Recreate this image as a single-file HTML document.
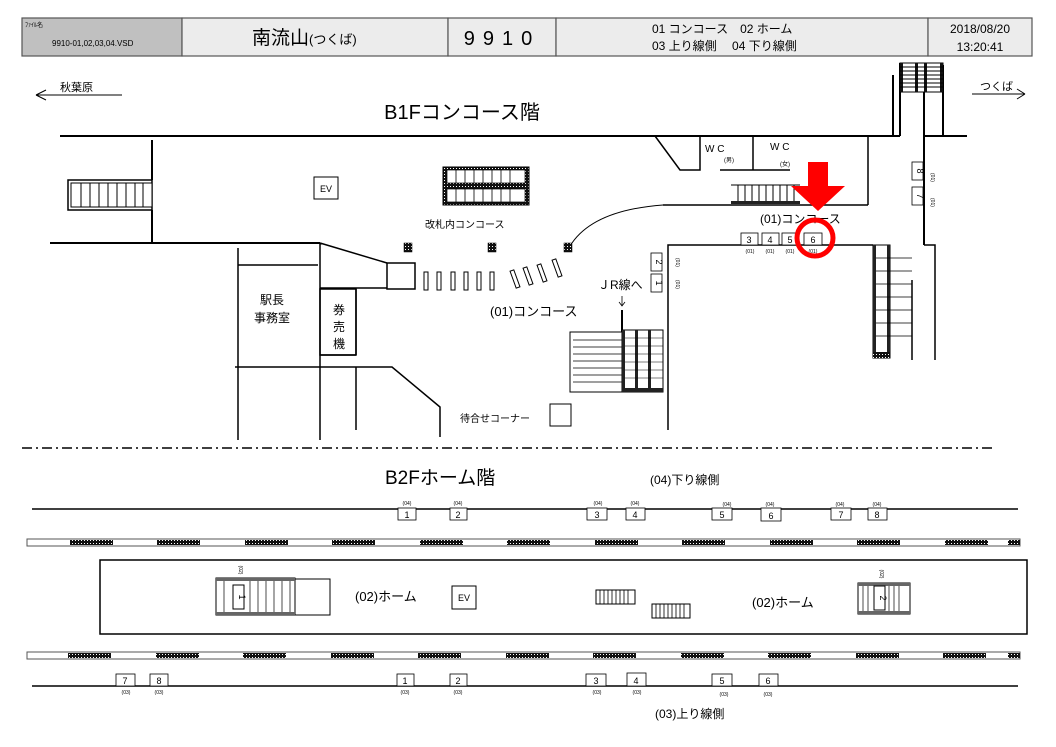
<!DOCTYPE html>
<html><head><meta charset="utf-8"><style>
html,body{margin:0;padding:0;background:#fff}
svg{display:block}
text{font-family:"Liberation Sans","Noto Sans CJK JP",sans-serif;fill:#000}
</style></head><body>
<svg width="1056" height="747" viewBox="0 0 1056 747" xmlns="http://www.w3.org/2000/svg">
<defs>
<pattern id="h" width="3" height="3" patternUnits="userSpaceOnUse"><rect width="3" height="3" fill="#111"/><rect width="1" height="1" fill="#fff"/></pattern>
</defs>
<!-- header -->
<g stroke="#555" stroke-width="1.2">
<rect x="22" y="18" width="160" height="38" fill="#c0c0c0"/>
<rect x="182" y="18" width="266" height="38" fill="#ececec"/>
<rect x="448" y="18" width="108" height="38" fill="#ececec"/>
<rect x="556" y="18" width="372" height="38" fill="#ececec"/>
<rect x="928" y="18" width="104" height="38" fill="#ececec"/>
</g>
<text x="25" y="27" font-size="6">ﾌｧｲﾙ名</text>
<text x="52" y="46" font-size="8">9910-01,02,03,04.VSD</text>
<text x="252" y="44" font-size="19">南流山<tspan font-size="13">(つくば)</tspan></text>
<text x="502" y="45" font-size="20" text-anchor="middle" letter-spacing="8">9910</text>
<text x="652" y="33" font-size="12">01 コンコース　02 ホーム</text>
<text x="652" y="50" font-size="12">03 上り線側　 04 下り線側</text>
<text x="980" y="33" font-size="12" text-anchor="middle">2018/08/20</text>
<text x="980" y="51" font-size="12" text-anchor="middle">13:20:41</text>

<g fill="none" stroke="#000" stroke-width="2">
<path d="M36 95 H122 M36 95 l10 -5 M36 95 l10 5" stroke-width="1"/>
<path d="M972 94 H1025 M1025 94 l-8 -5 M1025 94 l-8 5" stroke-width="1"/>
<path d="M60 136 H900 M924 136 H967"/>
<path d="M893 75 V136 M900 63 V136 M924 63 V245 M943 65 V135"/>
<path d="M152 140 V180 M152 210 V243 M50 243 H320"/>
<path d="M655 136 L680 170 H700 V136 M720 170 H790 M753 136 V170 M868 136 V205 M663 205 H868" stroke-width="1.5"/>
<path d="M572 243 Q595 210 663 205" stroke-width="1"/>
<path d="M668 430 V245 H873 M924 245 H935 V360 M912 280 V360" stroke-width="1.5"/>
<path d="M238 248 V440 M238 265 H318 M320 243 V440 M320 243 L387 263 M320 288 H387 M356 289 V355 M320 355 H356 M356 367 V430 M235 367 H392 L440 407 V437" stroke-width="1.5"/>
<rect x="387" y="263" width="28" height="26" stroke-width="1.5"/>
<rect x="320" y="289" width="36" height="66" stroke-width="1.5"/>
<path d="M622 310 V335" stroke-width="2"/>
<path d="M622 296 V306 M619 302 l3 4 l3 -4" stroke-width="0.8"/>
</g>
<!-- top escalator right -->
<rect x="900" y="63" width="43" height="29" fill="#fff" stroke="#000"/>
<g fill="#111"><rect x="900" y="63" width="3" height="29"/><rect x="915" y="63" width="3" height="29"/><rect x="924" y="63" width="3" height="29"/><rect x="940" y="63" width="3" height="29"/></g>
<g stroke="#000" stroke-width="1"><path d="M900 67 H943 M900 71 H943 M900 75 H943 M900 79 H943 M900 83 H943 M900 87 H943"/></g>
<!-- left stair -->
<rect x="68" y="180" width="84" height="30" fill="#fff" stroke="#000" stroke-width="1.5"/>
<rect x="71" y="183" width="81" height="24" fill="#fff" stroke="#000" stroke-width="1"/>
<g stroke="#000"><path d="M81 183 V207 M90 183 V207 M99 183 V207 M108 183 V207 M117 183 V207 M126 183 V207 M135 183 V207 M143 183 V207"/></g>
<rect x="314" y="177" width="24" height="22" fill="#fff" stroke="#000"/>
<text x="326" y="192" font-size="9" text-anchor="middle">EV</text>
<!-- central escalator -->
<rect x="443" y="167" width="86" height="38" fill="url(#h)" stroke="#000"/>
<rect x="447" y="170" width="78" height="13" fill="#fff" stroke="#000" stroke-width="0.7"/>
<rect x="447" y="189" width="78" height="13" fill="#fff" stroke="#000" stroke-width="0.7"/>
<g stroke="#000" stroke-width="0.8"><path d="M456 170 V183 M465 170 V183 M474 170 V183 M483 170 V183 M492 170 V183 M501 170 V183 M510 170 V183 M456 189 V202 M465 189 V202 M474 189 V202 M483 189 V202 M492 189 V202 M501 189 V202 M510 189 V202"/></g>
<text x="425" y="228" font-size="10">改札内コンコース</text>
<rect x="404" y="243" width="8" height="9" fill="url(#h)" stroke="#000" stroke-width=".5"/>
<rect x="488" y="243" width="8" height="9" fill="url(#h)" stroke="#000" stroke-width=".5"/>
<rect x="564" y="243" width="8" height="9" fill="url(#h)" stroke="#000" stroke-width=".5"/>
<g fill="#fff" stroke="#000" stroke-width="1">
<rect x="424" y="272" width="4" height="18"/><rect x="437" y="272" width="4" height="18"/><rect x="451" y="272" width="4" height="18"/><rect x="464" y="272" width="4" height="18"/><rect x="477" y="272" width="4" height="18"/><rect x="490" y="272" width="4" height="18"/>
<rect x="513" y="270" width="4" height="18" transform="rotate(-20 515 279)"/>
<rect x="526" y="267" width="4" height="18" transform="rotate(-20 528 276)"/>
<rect x="540" y="264" width="4" height="18" transform="rotate(-20 542 273)"/>
<rect x="555" y="259" width="4" height="18" transform="rotate(-20 557 268)"/>
</g>
<text x="272" y="304" font-size="12" text-anchor="middle">駅長</text>
<text x="272" y="322" font-size="12" text-anchor="middle">事務室</text>
<text x="339" y="314" font-size="12" text-anchor="middle">券</text>
<text x="339" y="331" font-size="12" text-anchor="middle">売</text>
<text x="339" y="348" font-size="12" text-anchor="middle">機</text>
<text x="490" y="316" font-size="13">(01)コンコース</text>
<text x="598" y="289" font-size="12">ＪR線へ</text>
<rect x="570" y="332" width="52" height="60" fill="#fff" stroke="#000"/>
<g stroke="#000" stroke-width="0.8"><path d="M573 340 H622 M573 347 H622 M573 354 H622 M573 361 H622 M573 368 H622 M573 375 H622 M573 382 H622"/></g>
<rect x="622" y="330" width="41" height="62" fill="#fff" stroke="#000"/>
<g fill="#222"><rect x="622" y="330" width="3" height="62"/><rect x="635" y="330" width="3" height="62"/><rect x="648" y="330" width="3" height="62"/><rect x="622" y="388" width="41" height="4"/></g>
<g stroke="#000" stroke-width="0.6"><path d="M625 338 H663 M625 346 H663 M625 354 H663 M625 362 H663 M625 370 H663 M625 378 H663"/></g>
<text x="460" y="422" font-size="10">待合せコーナー</text>
<rect x="550" y="404" width="21" height="22" fill="#fff" stroke="#000"/>
<text x="705" y="152" font-size="10">W C</text>
<text x="724" y="162" font-size="6">(男)</text>
<text x="770" y="150" font-size="10">W C</text>
<text x="780" y="166" font-size="6">(女)</text>
<g stroke="#000" stroke-width="1"><path d="M731 185 H800 M731 203 H800 M738 185 V203 M745 185 V203 M752 185 V203 M759 185 V203 M766 185 V203 M773 185 V203 M780 185 V203 M787 185 V203 M794 185 V203"/></g>
<rect x="731" y="201" width="69" height="3" fill="#222"/>
<text x="760" y="223" font-size="12">(01)コンコース</text>
<g fill="#fff" stroke="#000" stroke-width="0.8">
<rect x="741" y="233" width="17" height="12"/><rect x="762" y="233" width="17" height="12"/><rect x="782" y="233" width="17" height="12"/><rect x="804" y="233" width="18" height="12"/>
<rect x="651" y="253" width="11" height="18"/><rect x="651" y="274" width="11" height="18"/>
<rect x="912" y="162" width="11" height="18"/><rect x="912" y="187" width="11" height="18"/>
</g>
<g font-size="9" text-anchor="middle"><text x="749" y="243">3</text><text x="770" y="243">4</text><text x="790" y="243">5</text><text x="813" y="243">6</text></g>
<g font-size="5" text-anchor="middle"><text x="750" y="253">(01)</text><text x="770" y="253">(01)</text><text x="790" y="253">(01)</text><text x="813" y="253">(01)</text></g>
<text x="656" y="262" font-size="9" text-anchor="middle" transform="rotate(90 656 262)">2</text>
<text x="656" y="283" font-size="9" text-anchor="middle" transform="rotate(90 656 283)">1</text>
<text x="917" y="171" font-size="9" text-anchor="middle" transform="rotate(90 917 171)">8</text>
<text x="917" y="196" font-size="9" text-anchor="middle" transform="rotate(90 917 196)">7</text>
<rect x="873" y="245" width="17" height="113" fill="#fff" stroke="#000"/>
<rect x="873" y="245" width="3" height="113" fill="#222"/><rect x="887" y="245" width="3" height="113" fill="#222"/><rect x="873" y="352" width="17" height="6" fill="url(#h)"/>
<g stroke="#000" stroke-width="0.7"><path d="M876 258 H912 M876 271 H912 M876 284 H912 M876 297 H912 M876 310 H912 M876 323 H912 M876 336 H912"/></g>
<path d="M808 162 H828 V186 H845 L818 211 L791 186 H808 Z" fill="#f00"/>
<circle cx="815" cy="238" r="18" fill="none" stroke="#f00" stroke-width="5"/>
<path d="M22 448 H992" stroke="#000" stroke-width="1.5" stroke-dasharray="10 4 2 4" fill="none"/>
<text x="385" y="484" font-size="19">B2Fホーム階</text>
<text x="650" y="484" font-size="12">(04)下り線側</text>
<path d="M32 509 H1018 M32 686 H1018" stroke="#000" stroke-width="1.5"/>
<g fill="#fff" stroke="#000" stroke-width="0.8">
<rect x="398" y="508" width="18" height="12"/><rect x="450" y="508" width="17" height="12"/><rect x="587" y="508" width="20" height="12"/><rect x="626" y="508" width="19" height="12"/><rect x="712" y="508" width="20" height="12"/><rect x="761" y="508" width="20" height="13"/><rect x="831" y="508" width="20" height="12"/><rect x="868" y="508" width="19" height="12"/>
<rect x="116" y="674" width="19" height="12"/><rect x="150" y="674" width="18" height="12"/><rect x="397" y="674" width="17" height="12"/><rect x="450" y="674" width="17" height="12"/><rect x="586" y="674" width="20" height="12"/><rect x="627" y="673" width="19" height="13"/><rect x="712" y="674" width="20" height="12"/><rect x="759" y="674" width="19" height="12"/>
</g>
<g font-size="9" text-anchor="middle">
<text x="407" y="518">1</text><text x="458" y="518">2</text><text x="597" y="518">3</text><text x="635" y="518">4</text><text x="722" y="518">5</text><text x="771" y="519">6</text><text x="841" y="518">7</text><text x="877" y="518">8</text>
<text x="125" y="684">7</text><text x="159" y="684">8</text><text x="405" y="684">1</text><text x="458" y="684">2</text><text x="596" y="684">3</text><text x="636" y="684">4</text><text x="722" y="684">5</text><text x="768" y="684">6</text>
</g>
<g font-size="5" text-anchor="middle">
<text x="407" y="505">(04)</text><text x="458" y="505">(04)</text><text x="598" y="505">(04)</text><text x="635" y="505">(04)</text><text x="727" y="506">(04)</text><text x="770" y="506">(04)</text><text x="840" y="506">(04)</text><text x="877" y="506">(04)</text>
<text x="126" y="694">(03)</text><text x="159" y="694">(03)</text><text x="405" y="694">(03)</text><text x="458" y="694">(03)</text><text x="597" y="694">(03)</text><text x="637" y="694">(03)</text><text x="724" y="696">(03)</text><text x="768" y="696">(03)</text>
</g>
<rect x="27" y="539" width="993" height="7" fill="#fff" stroke="#555"/>
<rect x="27" y="652" width="993" height="7" fill="#fff" stroke="#555"/>
<g fill="url(#h)">
<rect x="70" y="540" width="43" height="5"/><rect x="157" y="540" width="43" height="5"/><rect x="245" y="540" width="43" height="5"/><rect x="332" y="540" width="43" height="5"/><rect x="420" y="540" width="43" height="5"/><rect x="507" y="540" width="43" height="5"/><rect x="595" y="540" width="43" height="5"/><rect x="682" y="540" width="43" height="5"/><rect x="770" y="540" width="43" height="5"/><rect x="857" y="540" width="43" height="5"/><rect x="945" y="540" width="43" height="5"/><rect x="1008" y="540" width="12" height="5"/>
<rect x="68" y="653" width="43" height="5"/><rect x="156" y="653" width="43" height="5"/><rect x="243" y="653" width="43" height="5"/><rect x="331" y="653" width="43" height="5"/><rect x="418" y="653" width="43" height="5"/><rect x="506" y="653" width="43" height="5"/><rect x="593" y="653" width="43" height="5"/><rect x="681" y="653" width="43" height="5"/><rect x="768" y="653" width="43" height="5"/><rect x="856" y="653" width="43" height="5"/><rect x="943" y="653" width="43" height="5"/><rect x="1008" y="653" width="12" height="5"/>
</g>
<rect x="100" y="560" width="927" height="74" fill="#fff" stroke="#000" stroke-width="1.5"/>
<rect x="216" y="578" width="79" height="37" fill="#fff" stroke="#000"/>
<rect x="216" y="578" width="79" height="3" fill="#666"/><rect x="216" y="612" width="79" height="3" fill="#666"/>
<path d="M295 579 H330 V615 H295" fill="none" stroke="#000"/>
<g stroke="#000" stroke-width="0.7"><path d="M250 581 V612 M258 581 V612 M266 581 V612 M274 581 V612 M282 581 V612 M290 581 V612 M224 581 V612"/></g>
<rect x="233" y="585" width="11" height="24" fill="#fff" stroke="#000"/>
<text x="239" y="597" font-size="9" text-anchor="middle" transform="rotate(90 239 597)">1</text>
<text x="239" y="570" font-size="5" text-anchor="middle" transform="rotate(90 239 570)">(02)</text>
<text x="355" y="601" font-size="13">(02)ホーム</text>
<rect x="452" y="586" width="24" height="23" fill="#fff" stroke="#000"/>
<text x="464" y="601" font-size="9" text-anchor="middle">EV</text>
<rect x="596" y="590" width="39" height="14" fill="#fff" stroke="#000"/>
<rect x="652" y="604" width="38" height="14" fill="#fff" stroke="#000"/>
<g stroke="#000" stroke-width="0.8"><path d="M600 590 V604 M604 590 V604 M608 590 V604 M612 590 V604 M616 590 V604 M620 590 V604 M624 590 V604 M628 590 V604 M656 604 V618 M660 604 V618 M664 604 V618 M668 604 V618 M672 604 V618 M676 604 V618 M680 604 V618 M684 604 V618"/></g>
<text x="752" y="607" font-size="13">(02)ホーム</text>
<rect x="858" y="583" width="52" height="31" fill="#fff" stroke="#000"/>
<rect x="858" y="583" width="52" height="3" fill="#666"/><rect x="858" y="611" width="52" height="3" fill="#666"/>
<g stroke="#000" stroke-width="0.7"><path d="M863 586 V611 M868 586 V611 M889 586 V611 M894 586 V611 M899 586 V611"/></g>
<rect x="874" y="586" width="11" height="24" fill="#fff" stroke="#000"/>
<text x="880" y="598" font-size="9" text-anchor="middle" transform="rotate(90 880 598)">2</text>
<text x="880" y="574" font-size="5" text-anchor="middle" transform="rotate(90 880 574)">(02)</text>
<text x="655" y="718" font-size="12">(03)上り線側</text>
<text x="60" y="91" font-size="11">秋葉原</text>
<text x="980" y="90" font-size="11">つくば</text>
<text x="462" y="119" font-size="20" text-anchor="middle">B1Fコンコース階</text>
<text x="931" y="173" font-size="5" transform="rotate(90 931 173)">(01)</text>
<text x="931" y="198" font-size="5" transform="rotate(90 931 198)">(01)</text>
<text x="676" y="258" font-size="5" transform="rotate(90 676 258)">(01)</text>
<text x="676" y="280" font-size="5" transform="rotate(90 676 280)">(01)</text>
</svg>
</body></html>
